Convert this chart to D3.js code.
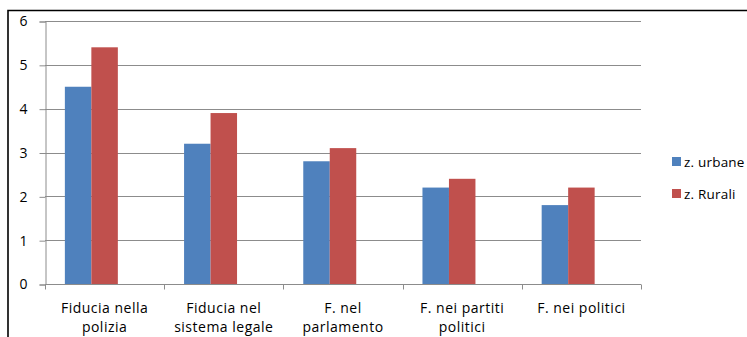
<!DOCTYPE html>
<html>
<head>
<meta charset="utf-8">
<script src="https://cdn.jsdelivr.net/npm/d3@7"></script>
<style>
  html, body { margin: 0; padding: 0; background: #fff; }
  svg { display: block; font-family: "Open Sans", "DejaVu Sans", sans-serif; }
</style>
</head>
<body>
<svg id="chart" width="747" height="337"></svg>
<script>
// Trust indicators by area type
const categories = [
  ["Fiducia nella", "polizia"],
  ["Fiducia nel", "sistema legale"],
  ["F. nel", "parlamento"],
  ["F. nei partiti", "politici"],
  ["F. nei politici"]
];
const seriesNames = ["z. urbane", "z. Rurali"];
const urbane = [4.5, 3.2, 2.8, 2.2, 1.8];
const rurali = [5.4, 3.9, 3.1, 2.4, 2.2];
const yTicks = [0, 1, 2, 3, 4, 5, 6];
const colors = ["#4F81BD", "#C0504D"];

const svg = d3.select("#chart");
const margin = { left: 45, right: 106, top: 21, bottom: 53 };
const W = 747, H = 337;
const x0 = margin.left, x1 = W - margin.right;
const yTop = margin.top, yBot = H - margin.bottom;

// outer frame
svg.append("path")
  .attr("d", `M8,${H} L8,10.5 L${W},10.5`)
  .attr("fill", "none").attr("stroke", "#000").attr("stroke-width", 1.6);

const idx = d3.range(categories.length);
const x = d3.scaleBand().domain(idx).range([x0, x1]).paddingInner(0).paddingOuter(0);
// each category reserves three column slots; the two series fill the first two
const inner = d3.scaleBand().domain([0, 1, 2])
  .range([0, x.bandwidth()]).paddingOuter(0.75).paddingInner(0);
const y = d3.scaleLinear().domain([0, 6]).range([yBot, yTop]);

// gridlines
svg.append("g").selectAll("line").data(yTicks.filter(d => d > 0)).join("line")
  .attr("x1", x0).attr("x2", x1)
  .attr("y1", d => Math.round(y(d)) + 0.5).attr("y2", d => Math.round(y(d)) + 0.5)
  .attr("stroke", "#8c8c8c").attr("stroke-width", 1);

// y axis
const yAxis = d3.axisLeft(y).tickValues(yTicks).tickFormat(d3.format("d"))
  .tickSize(6).tickPadding(12);
const gy = svg.append("g").attr("transform", `translate(${x0 + 0.5},0.5)`).call(yAxis);
gy.select(".domain").attr("stroke", "#8c8c8c");
gy.selectAll(".tick line").attr("stroke", "#8c8c8c");
gy.selectAll(".tick text").attr("fill", "#000").attr("font-size", 14)
  .attr("font-family", "Open Sans, sans-serif");

// bars
const series = [urbane, rurali];
series.forEach((vals, s) => {
  svg.append("g").selectAll("rect").data(vals).join("rect")
    .attr("x", (d, i) => x(i) + inner(s))
    .attr("y", d => y(d))
    .attr("width", inner.bandwidth())
    .attr("height", d => y(0) - y(d))
    .attr("fill", colors[s]);
});

// x axis
const gx = svg.append("g").attr("transform", `translate(0,${Math.round(yBot) + 0.5})`);
gx.append("line").attr("x1", x0).attr("x2", x1).attr("stroke", "#8c8c8c");
gx.selectAll(".tk").data(d3.range(categories.length + 1)).join("line")
  .attr("x1", i => Math.round(x0 + i * x.step()) + 0.5)
  .attr("x2", i => Math.round(x0 + i * x.step()) + 0.5)
  .attr("y1", 0).attr("y2", 5).attr("stroke", "#8c8c8c");

const lbl = svg.append("g").attr("font-size", 14).attr("fill", "#000")
  .attr("letter-spacing", 0.5).attr("text-anchor", "middle");
categories.forEach((lines, i) => {
  const cx = x(i) + x.bandwidth() / 2;
  const t = lbl.append("text").attr("x", cx).attr("y", 313);
  lines.forEach((ln, k) => {
    t.append("tspan").attr("x", cx).attr("dy", k === 0 ? 0 : 19).text(ln);
  });
});

// legend
const leg = svg.append("g");
seriesNames.forEach((name, s) => {
  const ly = 157 + s * 32;
  leg.append("rect").attr("x", 672).attr("y", ly).attr("width", 9).attr("height", 9)
    .attr("fill", colors[s]);
  leg.append("text").attr("x", 684).attr("y", ly + 10).attr("font-size", 13.5)
    .attr("letter-spacing", 0.2).attr("fill", "#000").text(name);
});
</script>
</body>
</html>
